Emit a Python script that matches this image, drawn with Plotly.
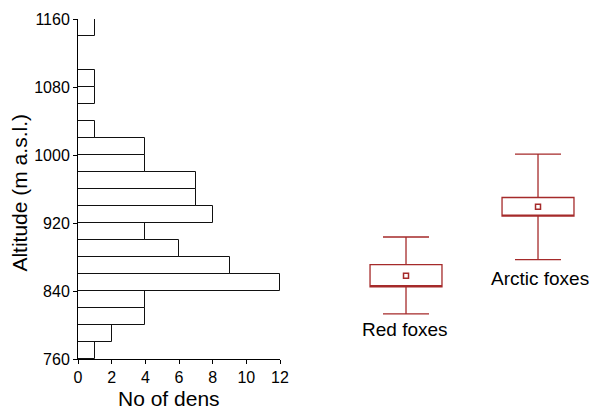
import plotly.graph_objects as go

# Histogram of den altitudes (bin lower edges, counts)
bin_lower = [760, 780, 800, 820, 840, 860, 880, 900, 920, 940, 960, 980,
             1000, 1020, 1040, 1060, 1080, 1100, 1120, 1140]
den_counts = [1, 2, 4, 4, 12, 9, 6, 4, 8, 7, 7, 4, 4, 1, 0, 1, 1, 0, 0, 1]
bin_width = 20

# Box summaries per species
species = ["Red foxes", "Arctic foxes"]
species_pos = [0, 1]
lower_whisker = [813, 877]
box_low = [845, 928]
box_high = [871, 950]
upper_whisker = [903.5, 1001]
means = [858, 939]

y_ticks = [760, 840, 920, 1000, 1080, 1160]
x_ticks = [0, 2, 4, 6, 8, 10, 12]

RED = "#a52a2a"
FONT = "Liberation Sans, Arial, sans-serif"

fig = go.Figure()

bars = [(b + bin_width / 2, c) for b, c in zip(bin_lower, den_counts) if c > 0]
fig.add_trace(go.Bar(
    y=[b for b, _ in bars], x=[c for _, c in bars], orientation="h",
    width=bin_width, marker=dict(color="white", line=dict(color="#111", width=1)),
    xaxis="x", yaxis="y", showlegend=False, hoverinfo="x+y"))

fig.add_trace(go.Box(
    x=species_pos, q1=box_low, median=box_low, q3=box_high,
    lowerfence=lower_whisker, upperfence=upper_whisker,
    width=0.545, whiskerwidth=0.64, boxpoints=False,
    line=dict(color=RED, width=1.3), fillcolor="rgba(0,0,0,0)",
    xaxis="x2", yaxis="y", showlegend=False))

fig.add_trace(go.Scatter(
    x=species_pos, y=means, mode="markers",
    marker=dict(symbol="square-open", size=5, color=RED, line=dict(width=1.5)),
    xaxis="x2", yaxis="y", showlegend=False))

label_y = [795, 855]
label_shift = [-1, 2]
for pos, name, ly, sh in zip(species_pos, species, label_y, label_shift):
    fig.add_annotation(x=pos, y=ly, xref="x2", yref="y", text=name, xshift=sh,
                       xanchor="center", yanchor="middle",
                       showarrow=False, font=dict(size=19, color="black", family=FONT))

# axis titles
fig.add_annotation(x=0.177, y=-0.1156, xref="paper", yref="paper", text="No of dens",
                   xanchor="center", yanchor="middle",
                   showarrow=False, font=dict(size=21, color="black", family=FONT))
fig.add_annotation(x=-0.1138, y=0.488, xref="paper", yref="paper",
                   text="Altitude (m a.s.l.)", textangle=-90,
                   xanchor="center", yanchor="middle",
                   showarrow=False, font=dict(size=21, color="black", family=FONT))

fig.update_layout(
    width=592, height=410,
    margin=dict(l=78, r=0, t=19, b=51),
    paper_bgcolor="white", plot_bgcolor="white",
    font=dict(family=FONT, color="black"),
    bargap=0,
    xaxis=dict(domain=[0, 0.393], range=[0, 12], tickvals=x_ticks,
               showline=True, linecolor="black", linewidth=1,
               ticks="outside", ticklen=4, tickcolor="black",
               showgrid=False, zeroline=False, tickfont=dict(size=16),
               anchor="y", automargin=False),
    yaxis=dict(range=[760, 1160], tickvals=y_ticks,
               showline=True, linecolor="black", linewidth=1,
               ticks="outside", ticklen=4, tickcolor="black",
               showgrid=False, zeroline=False, tickfont=dict(size=16),
               anchor="x", automargin=False),
    xaxis2=dict(domain=[0.45, 1], range=[-0.7326, 1.409], visible=False,
                anchor="y", automargin=False),
)

fig.write_html("out.html", config={"displayModeBar": False},
               post_script="document.body.style.margin='0';document.body.style.overflow='hidden';")
